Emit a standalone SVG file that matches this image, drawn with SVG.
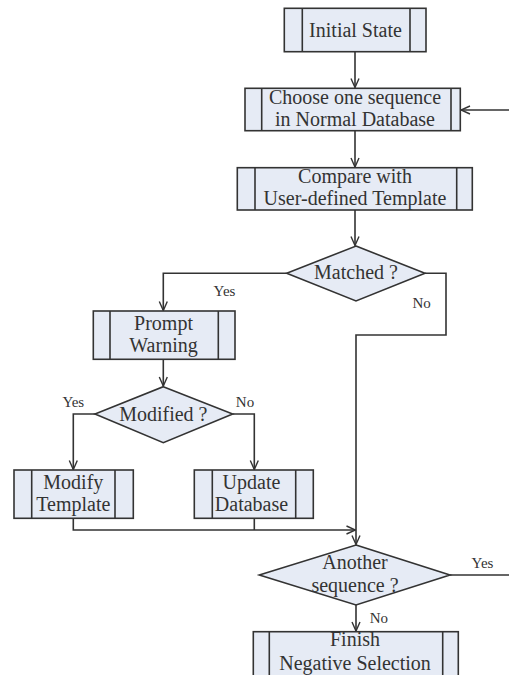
<svg xmlns="http://www.w3.org/2000/svg" width="509" height="675" viewBox="0 0 509 675">
<defs>
<marker id="arr" viewBox="0 0 10 10" refX="10" refY="5" markerWidth="10" markerHeight="10" markerUnits="userSpaceOnUse" orient="auto">
<path d="M1,1 L10,5 L1,9" fill="none" stroke="#333" stroke-width="1.4"/>
</marker>
<style>
.box{fill:#e6ebf5;stroke:#333;stroke-width:1.6}
.in{stroke:#333;stroke-width:1.6}
.t{font-family:"Liberation Serif","Times New Roman",serif;font-size:20px;fill:#333;text-anchor:middle}
.l{font-family:"Liberation Serif","Times New Roman",serif;font-size:15px;fill:#333;text-anchor:middle}
.c{fill:none;stroke:#333;stroke-width:1.6}
</style>
</defs>
<rect width="509" height="675" fill="#fff"/>
<g id="connectors">
<path class="c" d="M355,51.7 V87.5" marker-end="url(#arr)"/>
<path class="c" d="M509,110 H461" marker-end="url(#arr)"/>
<path class="c" d="M355,130.7 V167" marker-end="url(#arr)"/>
<path class="c" d="M355,210 V245.5" marker-end="url(#arr)"/>
<path class="c" d="M286.7,273.3 H163.3 V310.5" marker-end="url(#arr)"/>
<path class="c" d="M425,273.3 H446 V335 H356 V544.5" marker-end="url(#arr)"/>
<path class="c" d="M163.3,359.3 V386" marker-end="url(#arr)"/>
<path class="c" d="M95,414 H73.3 V469.5" marker-end="url(#arr)"/>
<path class="c" d="M232.7,414 H254.3 V469.5" marker-end="url(#arr)"/>
<path class="c" d="M73.3,518.3 V530 H355.5" marker-end="url(#arr)"/>
<path class="c" d="M254.3,518.3 V530"/>
<path class="c" d="M450,575 H509"/>
<path class="c" d="M356,605 V631" marker-end="url(#arr)"/>
<text class="l" x="224.5" y="296">Yes</text>
<text class="l" x="421.7" y="308.3">No</text>
<text class="l" x="73.3" y="406.7">Yes</text>
<text class="l" x="245" y="406.7">No</text>
<text class="l" x="482.5" y="568.3">Yes</text>
<text class="l" x="378.8" y="623.3">No</text>
</g>
<g id="initial">
<rect class="box" x="284.3" y="8.3" width="141.7" height="43.4"/>
<line class="in" x1="302.3" y1="8.3" x2="302.3" y2="51.7"/>
<line class="in" x1="410" y1="8.3" x2="410" y2="51.7"/>
<text class="t" x="355.5" y="36.5">Initial State</text>
</g>
<g id="choose">
<rect class="box" x="245" y="88.3" width="215.3" height="42.4"/>
<line class="in" x1="261.7" y1="88.3" x2="261.7" y2="130.7"/>
<line class="in" x1="451" y1="88.3" x2="451" y2="130.7"/>
<text class="t" x="355" y="103.5">Choose one sequence</text>
<text class="t" x="355" y="125.5">in Normal Database</text>
</g>
<g id="compare">
<rect class="box" x="237.3" y="167.7" width="235" height="42.3"/>
<line class="in" x1="255" y1="167.7" x2="255" y2="210"/>
<line class="in" x1="456.7" y1="167.7" x2="456.7" y2="210"/>
<text class="t" x="355" y="182.5">Compare with</text>
<text class="t" x="355" y="204.5">User-defined Template</text>
</g>
<g id="matched">
<polygon class="box" points="356,246 425,273.3 356,301 286.7,273.3"/>
<text class="t" x="356" y="279">Matched ?</text>
</g>
<g id="prompt">
<rect class="box" x="93.3" y="311" width="141.7" height="48.3"/>
<line class="in" x1="110" y1="311" x2="110" y2="359.3"/>
<line class="in" x1="218.3" y1="311" x2="218.3" y2="359.3"/>
<text class="t" x="163.5" y="329.5">Prompt</text>
<text class="t" x="163.5" y="352">Warning</text>
</g>
<g id="modified">
<polygon class="box" points="163.3,386.7 232.7,414 163.3,442.7 95,414"/>
<text class="t" x="163.3" y="420.5">Modified ?</text>
</g>
<g id="modify">
<rect class="box" x="14" y="470" width="119.3" height="48.3"/>
<line class="in" x1="31.7" y1="470" x2="31.7" y2="518.3"/>
<line class="in" x1="115" y1="470" x2="115" y2="518.3"/>
<text class="t" x="73.3" y="488.5">Modify</text>
<text class="t" x="73.3" y="511">Template</text>
</g>
<g id="update">
<rect class="box" x="194.3" y="470" width="119" height="48.3"/>
<line class="in" x1="212.3" y1="470" x2="212.3" y2="518.3"/>
<line class="in" x1="295.7" y1="470" x2="295.7" y2="518.3"/>
<text class="t" x="251.5" y="488.5">Update</text>
<text class="t" x="251.5" y="511">Database</text>
</g>
<g id="another">
<polygon class="box" points="356,545 450,575 356,605 259.3,575"/>
<text class="t" x="355" y="569">Another</text>
<text class="t" x="355" y="592">sequence ?</text>
</g>
<g id="finish">
<rect class="box" x="253.3" y="631.7" width="205" height="50"/>
<line class="in" x1="269.3" y1="631.7" x2="269.3" y2="681.7"/>
<line class="in" x1="442.7" y1="631.7" x2="442.7" y2="681.7"/>
<text class="t" x="355" y="646">Finish</text>
<text class="t" x="355" y="669.5">Negative Selection</text>
</g>
</svg>
